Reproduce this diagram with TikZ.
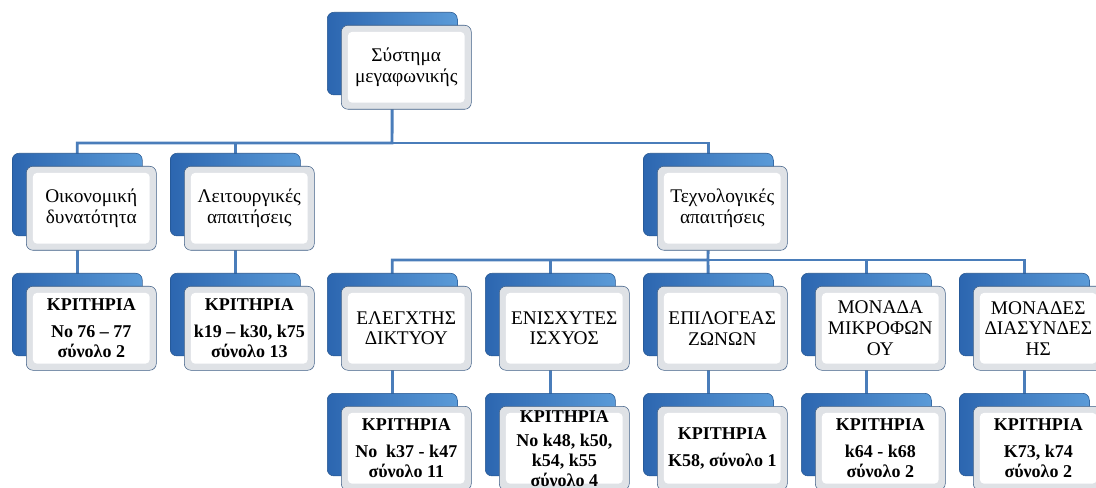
\documentclass[tikz,border=0pt]{standalone}
\usepackage{fontspec}
\setmainfont{Liberation Serif}
\usetikzlibrary{positioning,backgrounds,calc}
\definecolor{backdark}{HTML}{2C66B0}
\definecolor{backlight}{HTML}{5B9BD8}
\definecolor{backedge}{HTML}{24558F}
\definecolor{frontedge}{HTML}{3F5F86}
\definecolor{bevel}{HTML}{DFE2E6}
\definecolor{linkblue}{HTML}{4A7DBA}
\begin{document}
\begin{tikzpicture}[x=0.75pt,y=-0.75pt,
    back/.style={anchor=north west,rounded corners=5pt,draw=backedge,
      left color=backdark,right color=backlight,
      minimum width=97.5pt,minimum height=62pt,inner sep=0pt},
    front/.style={anchor=north west,rounded corners=5pt,draw=frontedge,
      fill=bevel,minimum width=97.5pt,minimum height=63pt,inner sep=0pt,
      align=center,font=\fontsize{14.5}{15.5}\selectfont,
      execute at begin node={\rule{0pt}{17pt}},
      path picture={\fill[white,rounded corners=3pt]
        ($(path picture bounding box.north west)+(5pt,-5pt)$) rectangle
        ($(path picture bounding box.south east)+(-5pt,5pt)$);}},
    crit/.style={front,font=\bfseries\fontsize{13.5}{15}\selectfont},
    link/.style={draw=linkblue,line width=2.2pt}]
  \clip (0,0) rectangle (1096,488);
  % root
  \node[back] (rootb) at (327,12) {};
  \node[front] (root) at ([shift={(14,13)}]rootb.north west) {Σύστημα\\μεγαφωνικής};
  % first level
  \node[back] (oikb) at (12,153) {};
  \node[front] (oik) at ([shift={(14,13)}]oikb.north west) {Οικονομική\\δυνατότητα};
  \node[back] (leitb) at (170,153) {};
  \node[front] (leit) at ([shift={(14,13)}]leitb.north west) {Λειτουργικές\\απαιτήσεις};
  \node[back] (techb) at (643,153) {};
  \node[front] (tech) at ([shift={(14,13)}]techb.north west) {Τεχνολογικές\\απαιτήσεις};
  % criteria under the first two
  \node[back] (oikkb) at (12,273) {};
  \node[crit] (oikk) at ([shift={(14,13)}]oikkb.north west) {ΚΡΙΤΗΡΙΑ\\[5pt]No 76 – 77\\σύνολο 2};
  \node[back] (leitkb) at (170,273) {};
  \node[crit] (leitk) at ([shift={(14,13)}]leitkb.north west) {ΚΡΙΤΗΡΙΑ\\[5pt]k19 – k30, k75\\σύνολο 13};
  % technology parts
  \node[back] (elb) at (327,273) {};
  \node[front] (el) at ([shift={(14,13)}]elb.north west) {ΕΛΕΓΧΤΗΣ\\ΔΙΚΤΥΟΥ};
  \node[back] (enb) at (485,273) {};
  \node[front] (en) at ([shift={(14,13)}]enb.north west) {ΕΝΙΣΧΥΤΕΣ\\ΙΣΧΥΟΣ};
  \node[back] (epb) at (643,273) {};
  \node[front] (ep) at ([shift={(14,13)}]epb.north west) {ΕΠΙΛΟΓΕΑΣ\\ΖΩΝΩΝ};
  \node[back] (micb) at (801,273) {};
  \node[front] (mic) at ([shift={(14,13)}]micb.north west) {ΜΟΝΑΔΑ\\ΜΙΚΡΟΦΩΝ\\ΟΥ};
  \node[back] (diab) at (959,273) {};
  \node[front] (dia) at ([shift={(14,13)}]diab.north west) {ΜΟΝΑΔΕΣ\\ΔΙΑΣΥΝΔΕΣ\\ΗΣ};
  % their criteria
  \node[back] (elkb) at (327,393) {};
  \node[crit] (elk) at ([shift={(14,13)}]elkb.north west) {ΚΡΙΤΗΡΙΑ\\[5pt]No\ \ k37 - k47\\σύνολο 11};
  \node[back] (enkb) at (485,393) {};
  \node[crit] (enk) at ([shift={(14,13)}]enkb.north west) {ΚΡΙΤΗΡΙΑ\\[3pt]No k48, k50,\\k54, k55\\σύνολο 4};
  \node[back] (epkb) at (643,393) {};
  \node[crit] (epk) at ([shift={(14,13)}]epkb.north west) {ΚΡΙΤΗΡΙΑ\\[5pt]K58, σύνολο 1};
  \node[back] (mickb) at (801,393) {};
  \node[crit] (mick) at ([shift={(14,13)}]mickb.north west) {ΚΡΙΤΗΡΙΑ\\[5pt]k64 - k68\\σύνολο 2};
  \node[back] (diakb) at (959,393) {};
  \node[crit] (diak) at ([shift={(14,13)}]diakb.north west) {ΚΡΙΤΗΡΙΑ\\[5pt]K73, k74\\σύνολο 2};
  \coordinate (bus1) at (392,143);
  \coordinate (bus2) at (708,260);
  \begin{scope}[on background layer]
    \draw[link] (rootb.center) -- (bus1) -| (oikb.center);
    \draw[link] (bus1) -| (leitb.center);
    \draw[link] (bus1) -| (techb.center);
    \draw[link] (oikb.center) -- (oikkb.center);
    \draw[link] (leitb.center) -- (leitkb.center);
    \draw[link] (techb.center) -- (bus2) -| (elb.center);
    \draw[link] (bus2) -| (enb.center);
    \draw[link] (bus2) -- (epb.center);
    \draw[link] (bus2) -| (micb.center);
    \draw[link] (bus2) -| (diab.center);
    \draw[link] (elb.center) -- (elkb.center);
    \draw[link] (enb.center) -- (enkb.center);
    \draw[link] (epb.center) -- (epkb.center);
    \draw[link] (micb.center) -- (mickb.center);
    \draw[link] (diab.center) -- (diakb.center);
  \end{scope}
\end{tikzpicture}
\end{document}
